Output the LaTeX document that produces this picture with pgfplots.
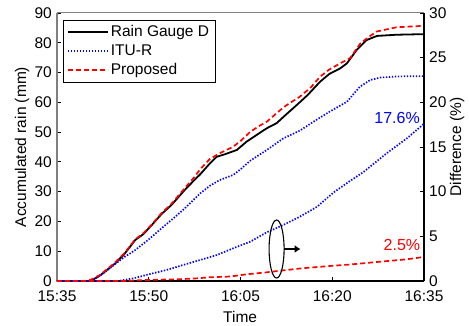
\documentclass[border=0pt]{standalone}
\usepackage{fontspec}
\setmainfont{Liberation Sans}
\usepackage{pgfplots}
\pgfplotsset{compat=1.18}
\usetikzlibrary{arrows.meta}
\definecolor{spinegray}{RGB}{128,128,128}
\begin{document}
\begin{tikzpicture}[x=1pt,y=1pt]
\path[use as bounding box] (-57,-45) rectangle (412,281);
\pgfplotsset{
  common/.style={
    scale only axis, width=367pt, height=268pt,
    xmin=0, xmax=60, clip=false,
    tick align=inside, major tick length=4pt,
    tick style={black, line width=0.8pt},
    /pgf/number format/assume math mode=true,
    tick label style={font=\fontsize{15.5}{18}\selectfont, inner sep=1pt},
    label style={font=\fontsize{15.5}{18}\selectfont},
  }
}
\begin{axis}[common,
  axis x line*=bottom, axis y line*=left,
  x axis line style={black, line width=1.3pt},
  y axis line style={spinegray, line width=2pt},
  ymin=0, ymax=90, ytick={0,10,...,90},
  xtick={0,15,30,45,60},
  xticklabels={15:35,15:50,16:05,16:20,16:35},
  xticklabel style={yshift=-8pt},
  yticklabel style={xshift=-4pt},
  xlabel={Time},
  xlabel style={at={(axis description cs:0.499,-0.134)}, anchor=center},
  ylabel={Accumulated rain (mm)},
  ylabel style={at={(axis description cs:-0.095,0.5)}, anchor=center, rotate=0},
  legend style={at={(axis description cs:0.0163,0.974)}, anchor=north west,
    draw=black, font=\fontsize{15.5}{18}\selectfont,
    row sep=2.5pt, inner xsep=4pt, inner ysep=3.5pt, fill=white},
  legend cell align=left,
  legend image code/.code={\draw[#1] (0pt,0pt) -- (40pt,0pt);},
  legend image post style={line width=1.7pt},
]
\addplot[black, line width=1.8pt] table {
t v
0 0
5.2 0
6.0 0.6
7.0 1.8
7.8 3.1
9.5 5.9
11.0 9.0
12.8 13.8
14.1 15.7
15.5 18.8
17.1 22.5
18.7 25.5
20.9 30.6
22.5 34.0
23.4 35.8
25.0 39.5
26.1 41.7
27.5 42.6
29.4 44.0
31.0 46.8
32.6 49.0
34.3 51.3
35.9 53.0
37.5 56.0
39.2 59.1
41.0 62.5
43.0 66.9
44.5 69.5
46.3 71.4
47.4 73.1
49.0 77.6
50.6 80.9
52.3 82.3
55.5 82.7
60 82.9
};
\addlegendentry{Rain Gauge D}
\addplot[blue, line width=1.7pt, dash pattern=on 1.4pt off 1.6pt] table {
t v
0 0
5.3 0
6.5 1.1
7.8 2.9
9.5 5.7
11.0 8.0
12.8 10.4
14.9 13.8
17.1 17.7
19.0 21.0
20.9 24.4
23.4 29.4
25.0 32.0
26.6 33.9
28.8 35.6
30.0 37.5
31.6 40.4
34.3 44.0
37.0 47.9
39.7 50.5
42.4 54.1
44.6 56.9
47.4 60.2
49.5 65.2
51.2 67.5
52.8 68.3
55.5 68.7
60 68.8
};
\addlegendentry{ITU-R}
\addplot[red, line width=1.7pt, dash pattern=on 5pt off 3pt] table {
t v
0 0
4.5 0
5.5 0.4
7.0 2.0
7.8 3.3
9.5 6.2
11.0 9.3
12.8 14.0
14.1 16.0
15.5 19.0
17.1 22.8
18.7 25.9
20.9 31.2
22.5 35.0
23.4 37.5
25.0 41.0
26.6 42.9
28.8 45.1
30.0 47.0
31.6 50.1
33.0 52.0
34.3 53.5
36.5 57.4
37.5 59.0
39.7 61.9
41.5 65.0
43.0 68.6
44.5 71.0
46.3 73.1
47.9 74.8
49.6 79.8
51.0 82.0
52.3 83.8
55.5 85.2
60 85.7
};
\addlegendentry{Proposed}
\end{axis}
\begin{axis}[common,
  axis x line*=top, axis y line*=right,
  x axis line style={spinegray, line width=1pt},
  y axis line style={black, line width=1.3pt},
  xtick=\empty,
  yticklabel style={xshift=4pt},
  ymin=0, ymax=30, ytick={0,5,...,30},
  ylabel={Difference (\%)},
  ylabel style={at={(axis description cs:1.09,0.5)}, anchor=center, rotate=0},
]
\addplot[blue, line width=1.7pt, dash pattern=on 1.4pt off 1.6pt] table {
t d
0 0
10 0
12.5 0.3
15.2 0.78
17.9 1.23
20.6 1.79
23.4 2.35
26.1 2.9
28.8 3.66
31.6 4.4
34.3 5.45
37.0 6.27
39.7 7.2
42.5 8.3
45.2 9.9
47.7 11.1
50.1 12.2
53.9 14.3
57.2 15.97
60 17.6
};
\addplot[red, line width=1.7pt, dash pattern=on 5pt off 3pt] table {
t d
0 0
11 0
14 0.1
20 0.2
23 0.3
25 0.42
28.3 0.5
31 0.75
34 0.95
36.5 1.15
40 1.42
44.6 1.68
48 1.85
52.8 2.16
56 2.35
58 2.5
60 2.7
};
\draw[black, line width=1.1pt] (axis cs:35.9,3.58) ellipse [x radius=7.5pt, y radius=29pt];
\draw[black, line width=2pt, -{Latex[length=6pt,width=8pt]}] ([xshift=7.5pt]axis cs:35.9,3.58) -- ([xshift=24pt]axis cs:35.9,3.58);
\node[blue, font=\fontsize{16}{18}\selectfont] at (axis cs:55.6,18.25) {17.6\%};
\node[red, font=\fontsize{16}{18}\selectfont] at (axis cs:56.4,4.03) {2.5\%};
\end{axis}
\end{tikzpicture}
\end{document}
